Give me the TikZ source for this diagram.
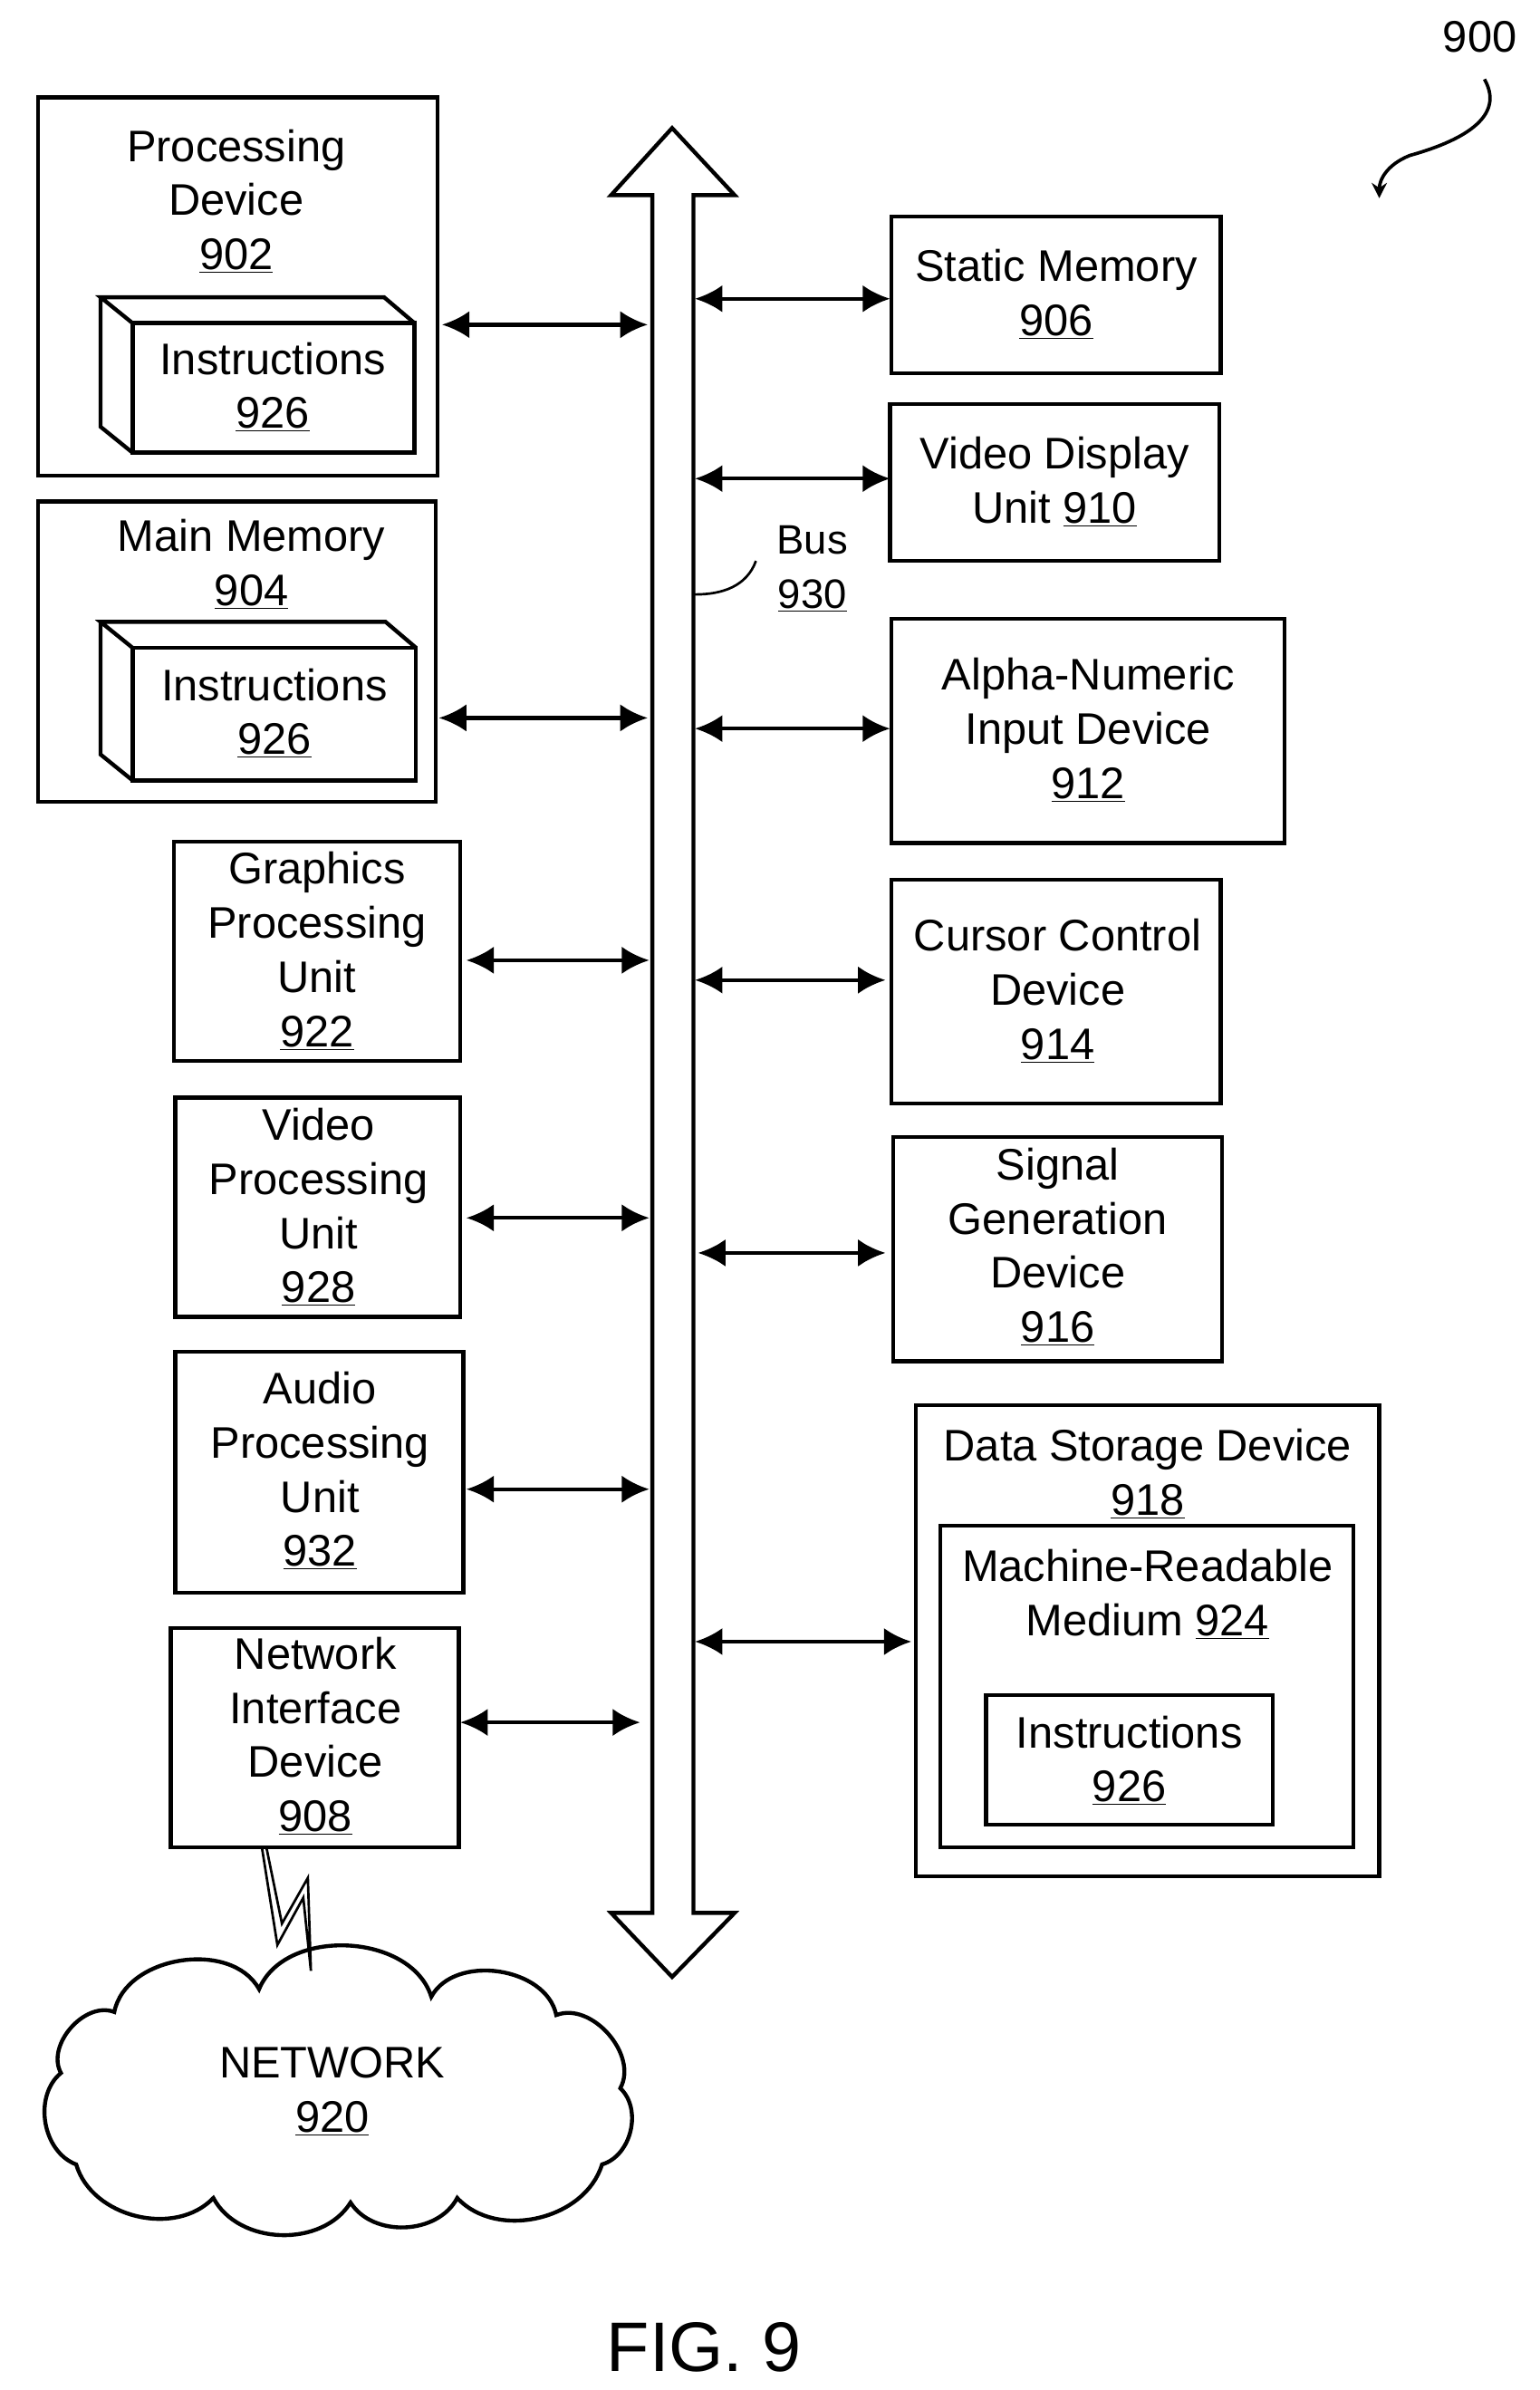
\documentclass[tikz,border=0pt]{standalone}
\usepackage{fontspec}
\setmainfont{Liberation Sans}
\usetikzlibrary{arrows.meta}
\begin{document}
\begin{tikzpicture}[x=1pt,y=-1pt,line width=2.6pt,
 box/.style={draw,line join=miter},
 lbl/.style={font=\fontsize{29}{35.5}\selectfont,align=center,inner sep=0},
 conn/.style={line width=2.6pt,{Latex[length=18,width=18]}-{Latex[length=18,width=18]}}]
\useasboundingbox (0,0) rectangle (1010,1568);
% bus
\draw[line width=2.6pt,line join=miter] (428,1255)--(428,128)--(401,128)--(441,84)--(482,128)--(455,128)--(455,1255)--(482,1255)--(441,1297)--(401,1255)--cycle;
% left boxes
\draw[box] (25,64) rectangle (287,312);
\node[lbl] (t902) at (155,132) {Processing\\Device\\\underline{902}};
\draw[box] (87,212) rectangle (272,297);
\draw[box] (87,212)--(66,195)--(252,195)--(272,212) (66,195)--(66,280)--(87,297);
\node[lbl] (i902) at (179,254) {Instructions\\\underline{926}};
\draw[box] (25,329) rectangle (286,526);
\node[lbl] (t904) at (165,370) {Main Memory\\\underline{904}};
\draw[box] (87,425) rectangle (273,512);
\draw[box] (87,425)--(66,408)--(253,408)--(273,425) (66,408)--(66,495)--(87,512);
\node[lbl] (i904) at (180,468) {Instructions\\\underline{926}};
\draw[box] (114,552) rectangle (302,696);
\node[lbl] (t922) at (208,624) {Graphics\\Processing\\Unit\\\underline{922}};
\draw[box] (115,720) rectangle (302,864);
\node[lbl] (t928) at (209,792) {Video\\Processing\\Unit\\\underline{928}};
\draw[box] (115,887) rectangle (304,1045);
\node[lbl] (t932) at (210,965) {Audio\\Processing\\Unit\\\underline{932}};
\draw[box] (112,1068) rectangle (301,1212);
\node[lbl] (t908) at (207,1139) {Network\\Interface\\Device\\\underline{908}};
% right boxes
\draw[box] (585,142) rectangle (801,245);
\node[lbl] (t906) at (693,193) {Static Memory\\\underline{906}};
\draw[box] (584,265) rectangle (800,368);
\node[lbl] (t910) at (692,316) {Video Display\\Unit \underline{910}};
\draw[box] (585,406) rectangle (843,553);
\node[lbl] (t912) at (714,479) {Alpha-Numeric\\Input Device\\\underline{912}};
\draw[box] (585,577) rectangle (801,724);
\node[lbl] (t914) at (694,650) {Cursor Control\\Device\\\underline{914}};
\draw[box] (586,746) rectangle (802,893);
\node[lbl] (t916) at (694,818) {Signal\\Generation\\Device\\\underline{916}};
\draw[box] (601,922) rectangle (905,1231);
\node[lbl] (t918) at (753,967) {Data Storage Device\\\underline{918}};
\draw[box] (617,1001) rectangle (888,1212);
\node[lbl] (t924) at (753,1046) {Machine-Readable\\Medium \underline{924}};
\draw[box] (647,1112) rectangle (835,1197);
\node[lbl] (i918) at (741,1155) {Instructions\\\underline{926}};
% connectors
\coordinate (b1) at (425,213); \coordinate (a1) at (290,213);
\draw[conn] (a1)--(b1);
\coordinate (b2) at (425,471); \coordinate (a2) at (288,471);
\draw[conn] (a2)--(b2);
\coordinate (b3) at (426,630); \coordinate (a3) at (306,630);
\draw[conn] (a3)--(b3);
\coordinate (b4) at (426,799); \coordinate (a4) at (306,799);
\draw[conn] (a4)--(b4);
\coordinate (b5) at (426,977); \coordinate (a5) at (306,977);
\draw[conn] (a5)--(b5);
\coordinate (b6) at (420,1130); \coordinate (a6) at (302,1130);
\draw[conn] (a6)--(b6);
\coordinate (c1) at (456,196); \coordinate (d1) at (584,196);
\draw[conn] (c1)--(d1);
\coordinate (c2) at (456,314); \coordinate (d2) at (584,314);
\draw[conn] (c2)--(d2);
\coordinate (c3) at (456,478); \coordinate (d3) at (584,478);
\draw[conn] (c3)--(d3);
\coordinate (c4) at (456,643); \coordinate (d4) at (581,643);
\draw[conn] (c4)--(d4);
\coordinate (c5) at (458,822); \coordinate (d5) at (581,822);
\draw[conn] (c5)--(d5);
\coordinate (c6) at (456,1077); \coordinate (d6) at (598,1077);
\draw[conn] (c6)--(d6);
% bus label
\node[lbl,font=\fontsize{27}{35.5}\selectfont] (bus) at (533,373) {Bus\\\underline{930}};
\coordinate (bl) at (456,390);
\draw[line width=1.6pt] (bl) to[out=0,in=250] (496,368);
% 900 label
\node[lbl] (n900) at (971,24) {900};
\coordinate (s1) at (974,52);
\coordinate (s2) at (905,130);
\draw[line width=2.2pt,-{Stealth[length=10,width=10]}] (s1) .. controls (990,80) and (950,95) .. (925,102) .. controls (910,108) and (905,118) .. (s2);
% lightning
\draw[line width=1.6pt,line join=miter] (172,1213)--(182,1276)--(199,1245)--(204,1293)--(202,1232)--(185,1262)--(175,1213);
% cloud
\draw[line width=2.6pt] (75,1320) to[bend left=70] (170,1305) to[bend left=70] (283,1310) to[bend left=70] (365,1322) to[bend left=70] (407,1370) to[bend left=60] (395,1420) to[bend left=60] (300,1442) to[bend left=60] (230,1445) to[bend left=60] (140,1442) to[bend left=60] (50,1420) to[bend left=60] (40,1360) to[bend left=70] cycle;
\node[lbl] (net) at (218,1372) {NETWORK\\\underline{920}};
\node[lbl,font=\fontsize{46}{50}\selectfont] (fig) at (462,1540) {FIG. 9};
\end{tikzpicture}
\end{document}
